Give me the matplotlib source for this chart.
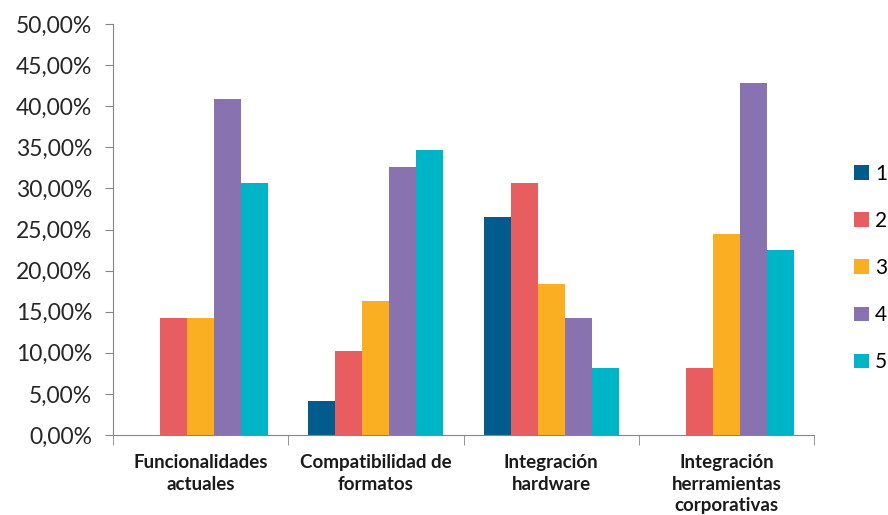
import matplotlib
matplotlib.use('Agg')
import matplotlib.pyplot as plt
import numpy as np
from matplotlib.ticker import FuncFormatter, FixedLocator

categorias = ["Funcionalidades\nactuales", "Compatibilidad de\nformatos",
              "Integración\nhardware", "Integración\nherramientas\ncorporativas"]
series = ["1", "2", "3", "4", "5"]
valores = {
    "1": [0.0, 0.0408, 0.2653, 0.0],
    "2": [0.1429, 0.1020, 0.3061, 0.0816],
    "3": [0.1429, 0.1633, 0.1837, 0.2449],
    "4": [0.4082, 0.3265, 0.1429, 0.4286],
    "5": [0.3061, 0.3469, 0.0816, 0.2245],
}
colores = ['#025C8B', '#E85E60', '#FAAF22', '#8873B0', '#00B4C8']

plt.rcParams['font.family'] = ['Lato', 'DejaVu Sans']

fig = plt.figure(figsize=(8.88, 5.15), dpi=100)
ax = fig.add_axes([0.1273, 0.1553, 0.7894, 0.7981])

x = np.arange(len(categorias))
ancho = 0.154
for i, (s, c) in enumerate(zip(series, colores)):
    ax.bar(x + (i - 2) * ancho, valores[s], ancho, color=c, label=s)

ax.set_xlim(-0.5, len(categorias) - 0.5)
ax.set_ylim(0, 0.5)
ax.set_yticks(np.arange(0, 0.501, 0.05))
ax.yaxis.set_major_formatter(FuncFormatter(lambda v, p: f"{v*100:.2f}%".replace('.', ',')))
ax.tick_params(axis='y', labelsize=16.5, colors='#868686', labelcolor='#262626', length=6, pad=9)

# etiquetas de categoria centradas, ticks en los limites
ax.set_xticks(x)
ax.set_xticklabels(categorias, fontsize=13.5, fontweight='bold', color='#1a1a1a', linespacing=1.3)
ax.tick_params(axis='x', length=0, pad=14)
ax.xaxis.set_minor_locator(FixedLocator(np.arange(-0.5, len(categorias), 1.0)))
ax.tick_params(axis='x', which='minor', length=7, color='#868686')

for lado in ['top', 'right']:
    ax.spines[lado].set_visible(False)
for lado in ['left', 'bottom']:
    ax.spines[lado].set_color('#868686')

fig.legend(loc='center left', bbox_to_anchor=(854 / 888, 1 - 268 / 515), frameon=False,
           fontsize=15, handlelength=0.7, handleheight=0.7, handletextpad=0.3,
           labelspacing=1.3, borderaxespad=0, borderpad=0)

plt.savefig('out.png', dpi=100)
plt.close()
